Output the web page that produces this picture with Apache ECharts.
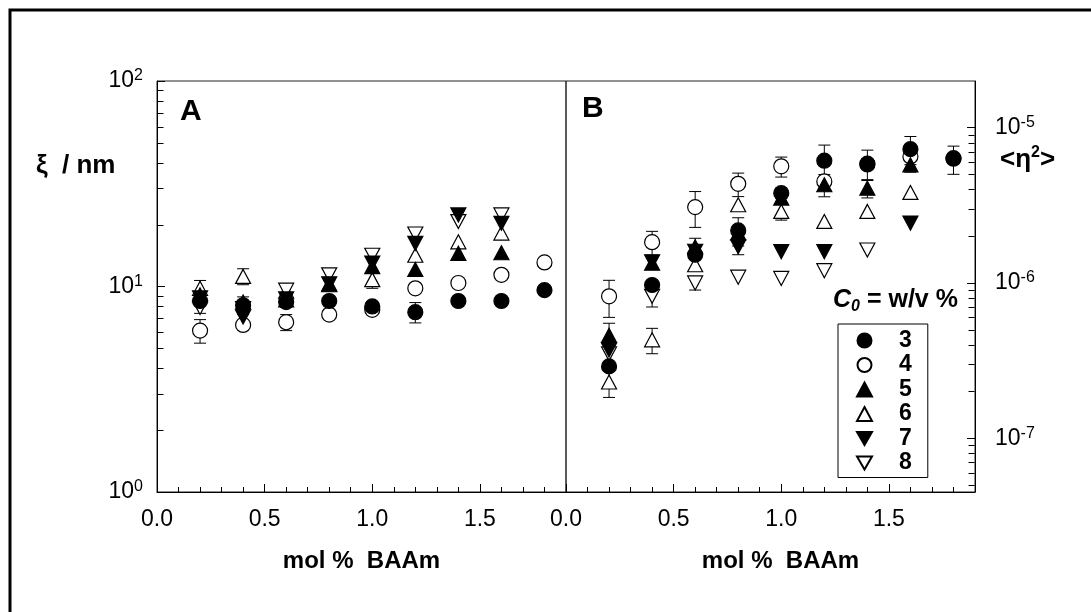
<!DOCTYPE html>
<html>
<head>
<meta charset="utf-8">
<style>
  html, body { margin: 0; padding: 0; background: #fff; }
  #chart { width: 1091px; height: 612px; }
</style>
<script src="https://cdn.jsdelivr.net/npm/echarts@6.0.0/dist/echarts.min.js"></script>
</head>
<body>
<div id="chart"></div>
<script>
// ---- data -------------------------------------------------------------
// BAAm (crosslinker) content of the gels, mol %
const molBAAm = [0.2, 0.4, 0.6, 0.8, 1.0, 1.2, 1.4, 1.6, 1.8];
// initial monomer concentration C0, w/v %
const c0Labels = ['3', '4', '5', '6', '7', '8'];

// Panel A: correlation length xi / nm
const xi3 = [8.5, 8.1, 8.4, 8.5, 8.0, 7.5, 8.5, 8.5, 9.6];
const xi4 = [6.1, 6.5, 6.7, 7.3, 7.7, 9.8, 10.4, 11.4, 13.1];
const xi5 = [9.1, 8.4, 8.6, 10.2, 12.5, 12.1, 14.5, 14.6, null];
const xi6 = [9.8, 11.2, 9.5, 10.3, 10.8, 14.2, 16.5, 18.2, null];
const xi7 = [8.8, 7.1, 8.7, 10.3, 13.0, 16.2, 22.3, 20.3, null];
const xi8 = [7.9, 7.8, 9.6, 11.4, 14.2, 18.0, 20.7, 22.3, null];
// standard deviations of xi (0 where the bar hides behind the symbol)
const xiErr3 = [0, 0.8, 0.5, 0.4, 0, 0.85, 0, 0, 0];
const xiErr4 = [0.8, 0, 0.6, 0, 0, 0, 0, 0, 0];
const xiErr5 = [0, 0, 0, 0.5, 0, 0, 0, 0, 0];
const xiErr6 = [0.9, 1.0, 0, 0, 1.0, 0, 0, 0, 0];
const xiErr7 = [0, 0, 0, 0, 0, 0, 0, 0, 0];
const xiErr8 = [0.5, 0, 0, 0, 0, 0, 0, 0, 0];

// Panel B: mean square refractive index fluctuation <eta^2>
const eta3 = [2.9e-7, 9.7e-7, 1.52e-6, 2.18e-6, 3.79e-6, 6.13e-6, 5.87e-6, 7.28e-6, 6.31e-6];
const eta4 = [8.2e-7, 1.83e-6, 3.08e-6, 4.35e-6, 5.64e-6, 4.51e-6, 5.8e-6, 6.53e-6, 6.37e-6];
const eta5 = [4.6e-7, 1.34e-6, 1.71e-6, 2.1e-6, 3.52e-6, 4.29e-6, 4.08e-6, 5.77e-6, null];
const eta6 = [2.3e-7, 4.3e-7, 1.31e-6, 3.19e-6, 2.89e-6, 2.49e-6, 2.89e-6, 3.83e-6, null];
const eta7 = [3.7e-7, 1.37e-6, 1.6e-6, 1.71e-6, 1.59e-6, 1.59e-6, null, 2.43e-6, null];
const eta8 = [3.5e-7, 8.2e-7, 1.0e-6, 1.09e-6, 1.07e-6, 1.2e-6, 1.63e-6, null, null];
const etaErr3 = [0, 0, 0, 0.45e-6, 0.3e-6, 1.6e-6, 1.3e-6, 1.5e-6, 1.3e-6];
const etaErr4 = [0.22e-6, 0.32e-6, 0.8e-6, 0.75e-6, 0.83e-6, 0, 0, 0, 0];
const etaErr5 = [0.9e-7, 0, 0.23e-6, 0, 0, 0.7e-6, 0.55e-6, 0.6e-6, 0];
const etaErr6 = [0.47e-7, 0.8e-7, 0, 0, 0.35e-6, 0, 0, 0, 0];
const etaErr7 = [0, 0, 0, 0.19e-6, 0, 0, 0, 0, 0];
const etaErr8 = [0, 0.12e-6, 0.1e-6, 0, 0, 0, 0, 0, 0];

// minor (unlabelled) ticks of the two logarithmic axes
const xiMinorTicks = [2, 3, 4, 5, 6, 7, 8, 9, 20, 30, 40, 50, 60, 70, 80, 90];
const etaMinorTicks = [5e-8, 6e-8, 7e-8, 8e-8, 9e-8,
  2e-7, 3e-7, 4e-7, 5e-7, 6e-7, 7e-7, 8e-7, 9e-7,
  2e-6, 3e-6, 4e-6, 5e-6, 6e-6, 7e-6, 8e-6, 9e-6];

// ---- styling ------------------------------------------------------------
const FONT = '"Liberation Sans", Arial, Helvetica, sans-serif';
const X_MIN = 0, X_MAX = 1.9;

const xiByC0 = { '3': xi3, '4': xi4, '5': xi5, '6': xi6, '7': xi7, '8': xi8 };
const xiErrByC0 = { '3': xiErr3, '4': xiErr4, '5': xiErr5, '6': xiErr6, '7': xiErr7, '8': xiErr8 };
const etaByC0 = { '3': eta3, '4': eta4, '5': eta5, '6': eta6, '7': eta7, '8': eta8 };
const etaErrByC0 = { '3': etaErr3, '4': etaErr4, '5': etaErr5, '6': etaErr6, '7': etaErr7, '8': etaErr8 };

// symbol per concentration: filled / open circles and up / down triangles
const DOWN_TRIANGLE = 'path://M0,0L16,0L8,14Z';
const markers = {
  '3': { symbol: 'circle', filled: true, rotate: 0, size: 15 },
  '4': { symbol: 'circle', filled: false, rotate: 0, size: 15 },
  '5': { symbol: 'triangle', filled: true, rotate: 0, size: [15, 14] },
  '6': { symbol: 'triangle', filled: false, rotate: 0, size: [15, 14] },
  '7': { symbol: 'triangle', filled: true, rotate: 180, size: [15, 14], legendIcon: DOWN_TRIANGLE },
  '8': { symbol: 'triangle', filled: false, rotate: 180, size: [15, 14], legendIcon: DOWN_TRIANGLE }
};
// open symbols first so filled ones sit on top
const drawOrder = ['4', '6', '8', '5', '7', '3'];

function pairs(values) {
  const out = [];
  values.forEach((v, i) => { if (v != null) out.push([molBAAm[i], v]); });
  return out;
}
function errTriples(valuesMap, errMap) {
  const out = [];
  c0Labels.forEach(c => {
    valuesMap[c].forEach((v, i) => {
      const e = errMap[c][i];
      if (v != null && e > 0) out.push([molBAAm[i], v, e]);
    });
  });
  return out;
}

function scatterSeries(c, idx, values) {
  const m = markers[c];
  return {
    name: c,
    type: 'scatter',
    xAxisIndex: idx * 2,
    yAxisIndex: idx,
    symbol: m.symbol,
    symbolSize: m.size,
    symbolRotate: m.rotate,
    itemStyle: {
      color: m.filled ? '#000' : '#fff',
      borderColor: '#000',
      borderWidth: 1.2,
      opacity: 1
    },
    emphasis: { disabled: true },
    z: 3,
    data: pairs(values)
  };
}

function errorBarItem(params, api) {
  const x = api.value(0), y = api.value(1), e = api.value(2);
  const hi = api.coord([x, y + e]);
  const lo = api.coord([x, y - e]);
  const cap = 6;
  const st = { stroke: '#000', lineWidth: 1 };
  return {
    type: 'group',
    children: [
      { type: 'line', shape: { x1: hi[0], y1: hi[1], x2: lo[0], y2: lo[1] }, style: st },
      { type: 'line', shape: { x1: hi[0] - cap, y1: hi[1], x2: hi[0] + cap, y2: hi[1] }, style: st },
      { type: 'line', shape: { x1: lo[0] - cap, y1: lo[1], x2: lo[0] + cap, y2: lo[1] }, style: st }
    ]
  };
}

function errorSeries(idx, triples) {
  return {
    type: 'custom',
    xAxisIndex: idx * 2,
    yAxisIndex: idx,
    silent: true,
    z: 2,
    data: triples,
    renderItem: errorBarItem
  };
}

// short inward ticks for the log axes, placed through the axis scales
function minorTickGraphics(xAxisIndex, yAxisIndex, xEdge, values, dir) {
  return values.map(v => {
    const p = chart.convertToPixel({ xAxisIndex, yAxisIndex }, [xEdge, v]);
    const x = Math.round(p[0]) + 0.5 * dir, y = Math.round(p[1]) + 0.5;
    return {
      type: 'line', silent: true, z: 10,
      shape: { x1: x, y1: y, x2: x + dir * 6, y2: y },
      style: { stroke: '#000', lineWidth: 1 }
    };
  });
}

const labelRich = {
  b: { fontSize: 23, fontFamily: FONT, color: '#000', lineHeight: 26 },
  s: { fontSize: 16, fontFamily: FONT, color: '#000', verticalAlign: 'top', lineHeight: 14 }
};
const powerLabel = v => '{b|10}{s|' + Math.round(Math.log10(v)) + '}';

function xAxes(gridIndex, namePad) {
  return [
    {
      gridIndex, type: 'value', min: X_MIN, max: X_MAX, interval: 0.5,
      position: 'bottom',
      axisLine: { show: true, onZero: false, lineStyle: { color: '#000', width: 1 } },
      axisTick: { show: true, inside: true, length: 8, lineStyle: { color: '#000' } },
      axisLabel: {
        show: true, margin: 16, fontSize: 23, fontFamily: FONT, color: '#000',
        showMaxLabel: false, formatter: v => v.toFixed(1)
      },
      splitLine: { show: false },
      name: 'mol %  BAAm', nameLocation: 'middle', nameGap: 57,
      nameTextStyle: { fontSize: 24, fontWeight: 'bold', fontFamily: FONT, color: '#000', padding: namePad }
    },
    {
      gridIndex, type: 'value', min: X_MIN, max: X_MAX, interval: 0.1,
      position: 'bottom', offset: 0,
      axisLine: { show: false, onZero: false },
      axisTick: { show: true, inside: true, length: 5, lineStyle: { color: '#000' } },
      axisLabel: { show: false },
      splitLine: { show: false }
    }
  ];
}

const staticGraphics = [
  // figure frame
  { type: 'polyline', silent: true, shape: { points: [[10, 612], [10, 10], [1091, 10]] },
    style: { stroke: '#000', lineWidth: 3, fill: null } },
  { type: 'text', left: 180, top: 97, style: { text: 'A', font: 'bold 30px ' + FONT, fill: '#000' } },
  { type: 'text', left: 582, top: 94, style: { text: 'B', font: 'bold 30px ' + FONT, fill: '#000' } },
  { type: 'text', left: 36, top: 153, style: { text: 'ξ  / nm', font: 'bold 26px ' + FONT, fill: '#000' } },
  { type: 'text', left: 1000, top: 145, style: {
      text: '{t|<η}{s|2}{t|>}',
      rich: {
        t: { font: 'bold 26px ' + FONT, fill: '#000', lineHeight: 30 },
        s: { font: 'bold 16px ' + FONT, fill: '#000', verticalAlign: 'top', lineHeight: 16 }
      } } },
  { type: 'text', left: 833, top: 288, style: {
      text: '{c|C}{o|0}{t| = w/v %}',
      rich: {
        c: { font: 'italic bold 25px ' + FONT, fill: '#000', lineHeight: 28 },
        o: { font: 'italic bold 16px ' + FONT, fill: '#000', verticalAlign: 'bottom', lineHeight: 20 },
        t: { font: 'bold 25px ' + FONT, fill: '#000', lineHeight: 28 }
      } } }
];

const option = {
  animation: false,
  backgroundColor: '#fff',
  grid: [
    { left: 157, top: 81, width: 409, height: 411, show: true, borderColor: '#222', borderWidth: 1, backgroundColor: 'transparent' },
    { left: 566, top: 81, width: 409, height: 411, show: true, borderColor: '#222', borderWidth: 1, backgroundColor: 'transparent' }
  ],
  xAxis: [].concat(xAxes(0, [0, 0, 0, 0]), xAxes(1, [0, 0, 0, 20])),
  yAxis: [
    {
      gridIndex: 0, type: 'log', logBase: 10, min: 1, max: 100, position: 'left',
      axisLine: { show: true, onZero: false, lineStyle: { color: '#000' } },
      axisTick: { show: true, inside: true, length: 8, lineStyle: { color: '#000' } },
      axisLabel: { margin: 14, formatter: powerLabel, rich: labelRich },
      splitLine: { show: false }
    },
    {
      gridIndex: 1, type: 'log', logBase: 10, min: 4.5e-8, max: 2e-5, position: 'right',
      axisLine: { show: true, onZero: false, lineStyle: { color: '#000' } },
      axisTick: { show: true, inside: true, length: 8, lineStyle: { color: '#000' } },
      axisLabel: { margin: 20, formatter: powerLabel, rich: labelRich, showMinLabel: false, showMaxLabel: false },
      splitLine: { show: false }
    }
  ],
  legend: {
    data: c0Labels.map(c => markers[c].legendIcon ? { name: c, icon: markers[c].legendIcon } : { name: c }),
    orient: 'vertical',
    left: 838, top: 324,
    itemWidth: 15, itemHeight: 14, itemGap: 1.5,
    padding: [5, 16, 3, 18],
    borderColor: '#000', borderWidth: 1, borderRadius: 0,
    backgroundColor: '#fff',
    selectedMode: false,
    textStyle: { fontSize: 23, fontWeight: 'bold', fontFamily: FONT, color: '#000', lineHeight: 20, padding: [0, 0, 0, 22] }
  },
  graphic: staticGraphics,
  series: []
};

// error bars beneath the symbols
option.series.push(errorSeries(0, errTriples(xiByC0, xiErrByC0)));
option.series.push(errorSeries(1, errTriples(etaByC0, etaErrByC0)));
// data symbols
drawOrder.forEach(c => option.series.push(scatterSeries(c, 0, xiByC0[c])));
drawOrder.forEach(c => option.series.push(scatterSeries(c, 1, etaByC0[c])));

const chart = echarts.init(document.getElementById('chart'), null, { renderer: 'canvas' });
chart.setOption(option);

// minor ticks of the log axes, pointing into the plots
chart.setOption({
  graphic: staticGraphics.concat(
    minorTickGraphics(0, 0, X_MIN, xiMinorTicks, 1),
    minorTickGraphics(2, 1, X_MAX, etaMinorTicks, -1)
  )
});
</script>
</body>
</html>
